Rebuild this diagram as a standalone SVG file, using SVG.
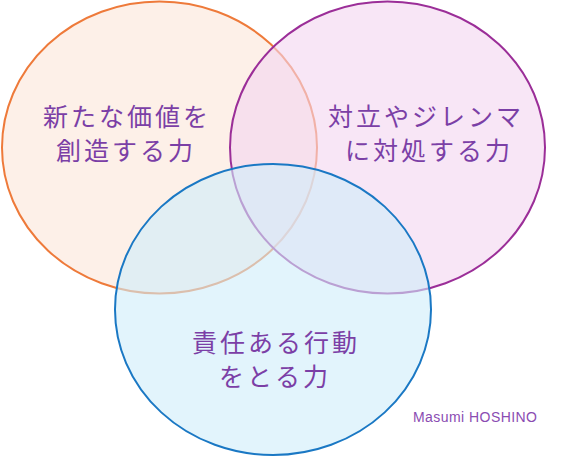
<svg xmlns="http://www.w3.org/2000/svg" width="567" height="458" viewBox="0 0 567 458">
<style>
.lbl{font-family:"Noto Sans CJK JP","Noto Sans",sans-serif;font-size:25px;fill:#7b3fa6;letter-spacing:3px;text-anchor:middle}
.sig{font-family:"Liberation Sans",Arial,sans-serif;font-size:14px;fill:#8a4cb2}
</style>
<rect width="567" height="458" fill="#ffffff"/>
<g id="orange">
<ellipse cx="159.5" cy="147.5" rx="157.5" ry="146" fill="#fdf0e8" stroke="#ee7a3a" stroke-width="2"/>
</g>
<g id="purple">
<ellipse cx="387.5" cy="147.5" rx="157.5" ry="146" fill="#f3d5f0" fill-opacity="0.6" stroke="#9b2e98" stroke-width="2"/>
</g>
<g id="blue">
<ellipse cx="273" cy="309.5" rx="158" ry="145.5" fill="#cfedfa" fill-opacity="0.6" stroke="#1a78c4" stroke-width="2"/>
</g>
<g id="labels">
<text class="lbl" x="127" y="126">新たな価値を</text>
<text class="lbl" x="126" y="160">創造する力</text>
<text class="lbl" x="426" y="126">対立やジレンマ</text>
<text class="lbl" x="429" y="160">に対処する力</text>
<text class="lbl" x="276" y="352">責任ある行動</text>
<text class="lbl" x="275" y="386">をとる力</text>
<text class="sig" x="413" y="422" textLength="124">Masumi HOSHINO</text>
</g>
</svg>
